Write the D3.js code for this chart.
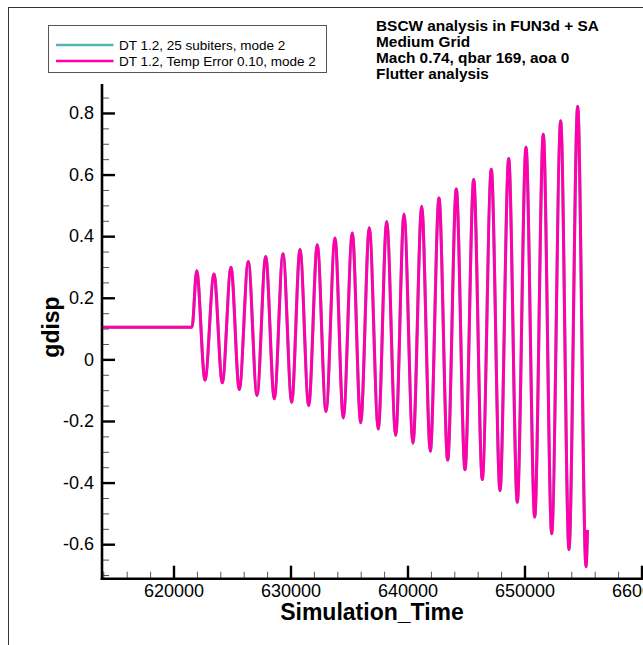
<!DOCTYPE html>
<html>
<head>
<meta charset="utf-8">
<script src="https://cdn.jsdelivr.net/npm/d3@7"></script>
<style>
  html, body { margin: 0; padding: 0; background: #fff; }
  svg { display: block; font-family: "Liberation Sans", Arial, Helvetica, sans-serif; }
</style>
</head>
<body>
<svg id="chart" width="643" height="645"></svg>
<script>
// series (Simulation_Time, gdisp), flat start then peak / trough pairs
const simTime = [
  613800, 621581,
  621983, 622692, 623462, 624171, 624915, 625624, 626393, 627137,
  627880, 628615, 629359, 630103, 630812, 631556, 632291, 633034,
  633803, 634513, 635282, 636000, 636735, 637504, 638222, 638991,
  639701, 640470, 641214, 641949, 642692, 643436, 644171, 644915,
  645658, 646393, 647162, 647906, 648650, 649385, 650128, 650872,
  651607, 652325, 653094, 653803, 654547, 655256, 655385
];
const gdisp = [
  0.104, 0.104,
  0.288, -0.067, 0.277, -0.076, 0.299, -0.098, 0.318, -0.117,
  0.334, -0.128, 0.343, -0.139, 0.357, -0.150, 0.372, -0.169,
  0.394, -0.190, 0.410, -0.206, 0.427, -0.226, 0.448, -0.247,
  0.472, -0.272, 0.497, -0.298, 0.524, -0.327, 0.553, -0.358,
  0.584, -0.390, 0.617, -0.426, 0.652, -0.464, 0.689, -0.512,
  0.731, -0.566, 0.775, -0.618, 0.822, -0.673, -0.554
];

const seriesNames = ['DT 1.2, 25 subiters, mode 2', 'DT 1.2, Temp Error 0.10, mode 2'];
const seriesColors = ['#55b4b0', '#ff00aa'];

const titleLines = [
  'BSCW analysis in FUN3d + SA',
  'Medium Grid',
  'Mach 0.74, qbar 169, aoa 0',
  'Flutter analysis'
];

const xMajorTicks = [620000, 630000, 640000, 650000, 660000];
const xMinorTicks = d3.range(614000, 662001, 2000).filter(v => v % 10000 !== 0);
const yMajorTicks = [-0.6, -0.4, -0.2, 0, 0.2, 0.4, 0.6, 0.8];
const yMinorTicks = [-0.7, -0.65, -0.55, -0.5, -0.45, -0.35, -0.3, -0.25, -0.15, -0.1, -0.05,
  0.05, 0.1, 0.15, 0.25, 0.3, 0.35, 0.45, 0.5, 0.55, 0.65, 0.7, 0.75, 0.85];

const svg = d3.select('#chart');

const plotLeft = 102, plotRight = 645, plotTop = 84, plotBottom = 578.7;

const x = d3.scaleLinear().domain([613889, 660300]).range([plotLeft, plotRight]);
const y = d3.scaleLinear().domain([-0.712, 0.894]).range([plotBottom, plotTop]);

// outer frame (only top and left edges show)
svg.append('rect')
  .attr('x', 8.5).attr('y', 7.5)
  .attr('width', 700).attr('height', 700)
  .attr('fill', 'none')
  .attr('stroke', '#333')
  .attr('stroke-width', 1);

svg.append('clipPath').attr('id', 'plot-clip')
  .append('rect')
  .attr('x', plotLeft).attr('y', plotTop - 20)
  .attr('width', plotRight - plotLeft).attr('height', plotBottom - plotTop + 20);

const points = simTime.map((t, i) => [t, gdisp[i]]);

const line = d3.line()
  .x(d => x(d[0]))
  .y(d => y(d[1]))
  .curve(d3.curveMonotoneX);

// both runs lie on top of each other, the pink one is drawn last
seriesColors.forEach(c => {
  svg.append('path')
    .datum(points)
    .attr('clip-path', 'url(#plot-clip)')
    .attr('fill', 'none')
    .attr('stroke', c)
    .attr('stroke-width', 3)
    .attr('stroke-linejoin', 'round')
    .attr('d', line);
});

// minor ticks
svg.append('g')
  .attr('transform', `translate(${plotLeft},0)`)
  .call(d3.axisLeft(y).tickValues(yMinorTicks).tickSize(-7).tickFormat(''))
  .call(g => g.select('.domain').remove())
  .call(g => g.selectAll('line').attr('stroke', '#555').attr('stroke-width', 1));

svg.append('g')
  .attr('transform', `translate(0,${plotBottom})`)
  .call(d3.axisBottom(x).tickValues(xMinorTicks).tickSize(-7).tickFormat(''))
  .call(g => g.select('.domain').remove())
  .call(g => g.selectAll('line').attr('stroke', '#555').attr('stroke-width', 1));

// major axes
const yAxis = svg.append('g')
  .attr('transform', `translate(${plotLeft},0)`)
  .call(d3.axisLeft(y).tickValues(yMajorTicks).tickSize(-13).tickSizeOuter(0).tickPadding(8)
    .tickFormat(d => String(+d.toFixed(1))));

const xAxis = svg.append('g')
  .attr('transform', `translate(0,${plotBottom})`)
  .call(d3.axisBottom(x).tickValues(xMajorTicks).tickSize(-13).tickSizeOuter(0).tickPadding(5.5)
    .tickFormat(d => String(d)));

[yAxis, xAxis].forEach(g => {
  g.select('.domain').attr('stroke', '#000').attr('stroke-width', 2.6);
  g.selectAll('.tick line').attr('stroke', '#000').attr('stroke-width', 2.4);
  g.selectAll('.tick text')
    .attr('fill', '#000')
    .attr('font-family', '"Liberation Sans", Arial, sans-serif')
    .attr('font-size', 18);
});
// keep the axis lines meeting at the corner
yAxis.select('.domain').attr('d', `M0,${plotTop}V${plotBottom + 1.3}`);
xAxis.select('.domain').attr('d', `M${plotLeft - 1.3},0H${plotRight}`);

// axis titles
svg.append('text')
  .attr('x', 372)
  .attr('y', 620)
  .attr('text-anchor', 'middle')
  .attr('font-weight', 'bold')
  .attr('font-size', 23)
  .text('Simulation_Time');

svg.append('text')
  .attr('transform', 'translate(58.5,327) rotate(-90)')
  .attr('text-anchor', 'middle')
  .attr('font-weight', 'bold')
  .attr('font-size', 23)
  .text('gdisp');

// legend
const legend = svg.append('g');
legend.append('rect')
  .attr('x', 48.5).attr('y', 25.5)
  .attr('width', 278).attr('height', 47)
  .attr('fill', '#fff')
  .attr('stroke', '#555')
  .attr('stroke-width', 1);

seriesNames.forEach((name, i) => {
  const ly = 45 + i * 16;
  legend.append('line')
    .attr('x1', 56).attr('x2', 113.5)
    .attr('y1', ly).attr('y2', ly)
    .attr('stroke', seriesColors[i])
    .attr('stroke-width', 2.5);
  legend.append('text')
    .attr('x', 119)
    .attr('y', ly + 4.8)
    .attr('font-size', 13.5)
    .text(name);
});

// title block
svg.append('g')
  .selectAll('text')
  .data(titleLines)
  .enter()
  .append('text')
  .attr('x', 376)
  .attr('y', (d, i) => 31 + i * 16)
  .attr('font-weight', 'bold')
  .attr('font-size', 15.4)
  .text(d => d);
</script>
</body>
</html>
